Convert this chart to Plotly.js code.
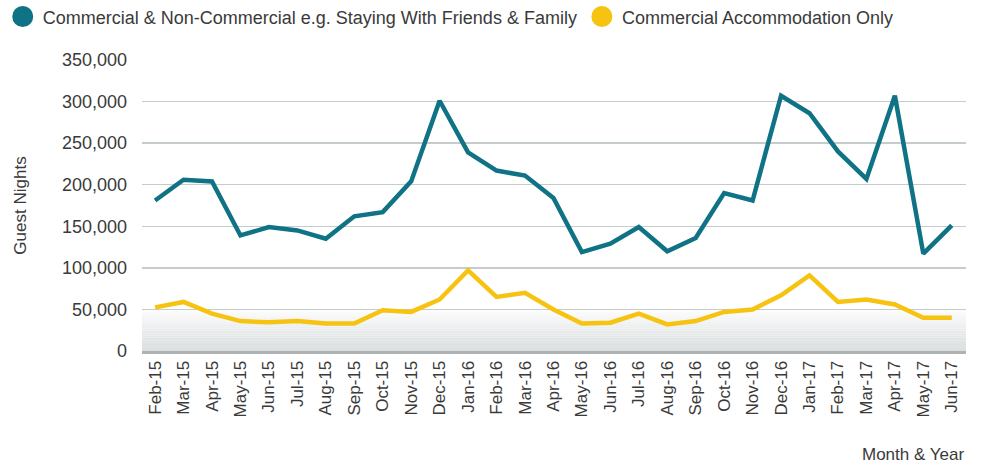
<!DOCTYPE html>
<html>
<head>
<meta charset="utf-8">
<script src="https://cdn.plot.ly/plotly-3.0.1.min.js"></script>
<style>
html,body{margin:0;padding:0;background:#fff;}
#chart{width:984px;height:465px;}
</style>
</head>
<body>
<div id="chart"></div>
<script>
var months = ["Feb-15","Mar-15","Apr-15","May-15","Jun-15","Jul-15","Aug-15","Sep-15","Oct-15","Nov-15","Dec-15",
  "Jan-16","Feb-16","Mar-16","Apr-16","May-16","Jun-16","Jul-16","Aug-16","Sep-16","Oct-16","Nov-16","Dec-16",
  "Jan-17","Feb-17","Mar-17","Apr-17","May-17","Jun-17"];

var allAccommodation = [181000,206000,204000,139000,149000,145000,135000,162000,167000,204000,301000,
  239000,217000,211000,184000,119000,129000,149000,120000,136000,190000,181000,307000,
  286000,240000,207000,307000,117000,151000];

var commercialOnly = [52500,59000,45000,36000,34500,36000,33000,33000,49000,47000,62000,
  97000,65000,70000,50000,33000,34000,45000,32000,36000,47000,50000,67000,
  91000,59000,62000,56000,40000,40000];

var seriesNames = ["Commercial & Non-Commercial e.g. Staying With Friends & Family","Commercial Accommodation Only"];
var seriesColors = ["#0f7285","#f7c311"];
var yTicks = [0,50000,100000,150000,200000,250000,300000,350000];

var FONT = "Liberation Sans, Arial, sans-serif";
var TXT = "#3a3a3a";

var traces = [
  {x: months, y: allAccommodation, type: "scatter", mode: "lines", name: seriesNames[0],
   line: {color: seriesColors[0], width: 4.5}, showlegend: false, hoverinfo: "x+y"},
  {x: months, y: commercialOnly, type: "scatter", mode: "lines", name: seriesNames[1],
   line: {color: seriesColors[1], width: 4.5}, showlegend: false, hoverinfo: "x+y"},
  {x: [null], y: [null], type: "scatter", mode: "markers", name: seriesNames[0],
   marker: {color: seriesColors[0], size: 16, line: {color: seriesColors[0], width: 5}}},
  {x: [null], y: [null], type: "scatter", mode: "markers", name: seriesNames[1],
   marker: {color: seriesColors[1], size: 16, line: {color: seriesColors[1], width: 5}}}
];

// gradient band from 0 to 50,000
var shapes = [];
var N = 24;
function lerp(a,b,t){return Math.round(a+(b-a)*t);}
for (var i = 0; i < N; i++) {
  var t = i/(N-1); // 0 bottom -> 1 top
  var r = lerp(216,252,t), g = lerp(220,252,t), b = lerp(221,252,t);
  shapes.push({type:"rect", xref:"paper", yref:"y", x0:0, x1:1,
    y0: 50000*i/N, y1: 50000*(i+1)/N, line:{width:0},
    fillcolor:"rgb("+r+","+g+","+b+")", layer:"below"});
}

var layout = {
  width: 984, height: 465,
  margin: {l: 142, r: 18, t: 60, b: 114, autoexpand: false},
  paper_bgcolor: "#ffffff", plot_bgcolor: "rgba(0,0,0,0)",
  font: {family: FONT, color: TXT, size: 17},
  showlegend: true,
  legend: {orientation: "h", xref: "paper", yref: "paper", x: -0.169, y: 1.212, xanchor: "left", yanchor: "top",
    font: {family: FONT, size: 18, color: TXT}, bgcolor: "rgba(0,0,0,0)", itemwidth: 30},
  xaxis: {type: "category", range: [-0.46, 28.5], tickangle: -90, tickfont: {size: 17, color: TXT},
    showgrid: false, showline: true, linecolor: "#aeb4b6", linewidth: 3, ticks: "", zeroline: false,
    fixedrange: true},
  yaxis: {range: [0, 350000], tickvals: yTicks, tickformat: ",d", tickfont: {size: 18, color: TXT},
    showgrid: true, gridcolor: "#c6cbcc", gridwidth: 1.5, zeroline: false, ticks: "",
    ticklabelstandoff: 14,
    title: {text: "Guest Nights", font: {size: 17, color: TXT}, standoff: 30}},
  shapes: shapes,
  annotations: [{text: "Month & Year", xref: "paper", yref: "paper", x: 1, y: -0.355, xanchor: "right", yanchor: "middle",
    showarrow: false, font: {size: 17, color: TXT}}]
};

Plotly.newPlot("chart", traces, layout, {displayModeBar: false, staticPlot: true});
</script>
</body>
</html>
